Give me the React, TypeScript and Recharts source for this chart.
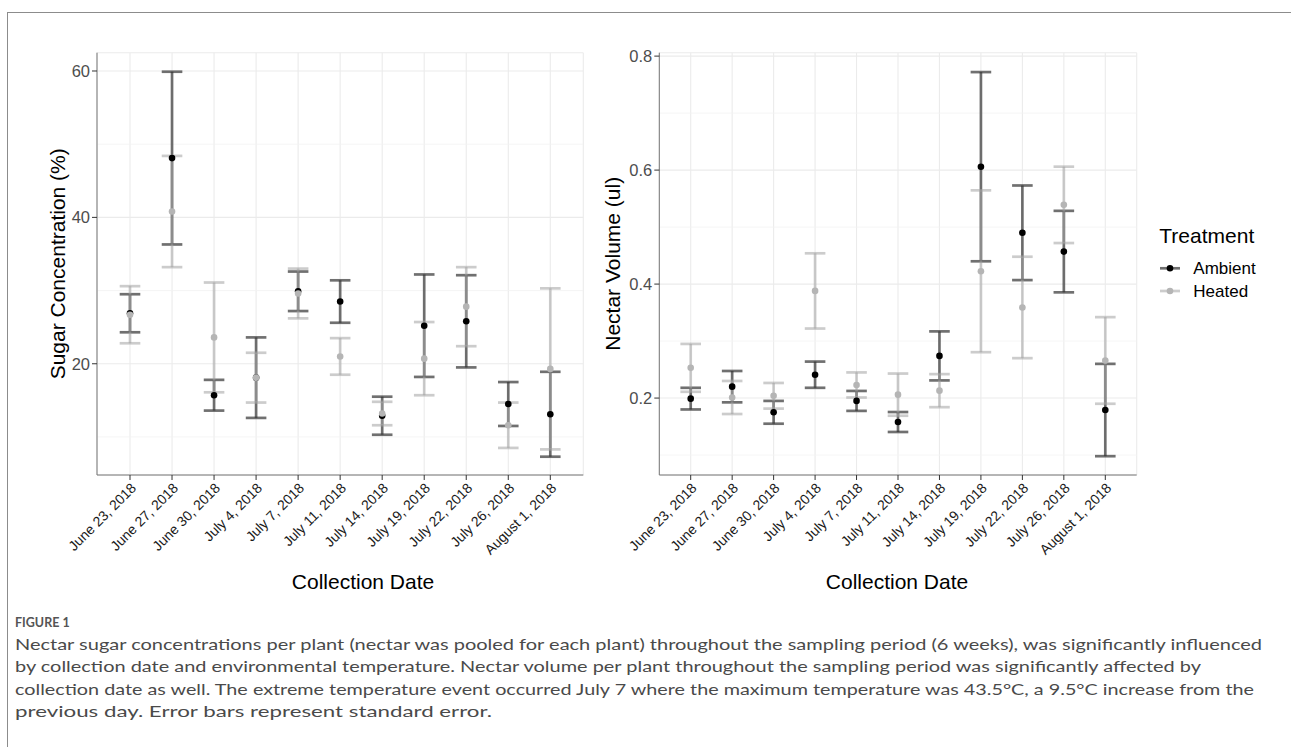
import React from "react";
import {
  ComposedChart,
  Scatter,
  ErrorBar,
  XAxis,
  YAxis,
  CartesianGrid,
  ReferenceLine,
} from "recharts";

const dates = [
  "June 23, 2018",
  "June 27, 2018",
  "June 30, 2018",
  "July 4, 2018",
  "July 7, 2018",
  "July 11, 2018",
  "July 14, 2018",
  "July 19, 2018",
  "July 22, 2018",
  "July 26, 2018",
  "August 1, 2018",
];

// sugar concentration (%), mean and standard error
const sugarAmbient = [26.9, 48.1, 15.7, 18.1, 29.9, 28.5, 12.9, 25.2, 25.8, 14.5, 13.1];
const sugarAmbientSe = [2.6, 11.8, 2.1, 5.5, 2.7, 2.9, 2.6, 7.0, 6.3, 3.0, 5.8];
const sugarHeated = [26.7, 40.8, 23.6, 18.1, 29.6, 21.0, 13.2, 20.7, 27.8, 11.6, 19.3];
const sugarHeatedSe = [3.9, 7.6, 7.5, 3.4, 3.4, 2.5, 1.6, 5.0, 5.4, 3.1, 11.0];

// nectar volume (ul), mean and standard error
const volumeAmbient = [0.199, 0.22, 0.175, 0.241, 0.195, 0.158, 0.274, 0.606, 0.49, 0.457, 0.179];
const volumeAmbientSe = [0.019, 0.0275, 0.02, 0.023, 0.0175, 0.0175, 0.043, 0.166, 0.083, 0.0715, 0.081];
const volumeHeated = [0.253, 0.201, 0.204, 0.388, 0.223, 0.206, 0.213, 0.4225, 0.359, 0.539, 0.266];
const volumeHeatedSe = [0.042, 0.029, 0.0225, 0.066, 0.022, 0.037, 0.029, 0.142, 0.089, 0.067, 0.076];

const sugarTicks = [20, 40, 60];
const sugarMinor = [10, 30, 50];
const volumeTicks = [0.2, 0.4, 0.6, 0.8];
const volumeMinor = [0.1, 0.3, 0.5, 0.7];

const captionLines = [
  "Nectar sugar concentrations per plant (nectar was pooled for each plant) throughout the sampling period (6 weeks), was significantly influenced",
  "by collection date and environmental temperature. Nectar volume per plant throughout the sampling period was significantly affected by",
  "collection date as well. The extreme temperature event occurred July 7 where the maximum temperature was 43.5°C, a 9.5°C increase from the",
  "previous day. Error bars represent standard error.",
];
const captionWidths = [1247, 1186, 1239, 477];

const FONT = "'Liberation Sans', Arial, sans-serif";
const AMBIENT_BAR = "#333333";
const HEATED_BAR = "#a4a4a4";

function buildRows(amb: number[], ambSe: number[], hot: number[], hotSe: number[]) {
  return dates.map((date, i) => ({
    date,
    ambient: amb[i],
    ambientSe: ambSe[i],
    heated: hot[i],
    heatedSe: hotSe[i],
  }));
}

const noShape = () => <g />;

const dot = (fill: string) => (p: any) =>
  <circle cx={p.cx} cy={p.cy} r={3.3} fill={fill} />;

function DateTick(props: any) {
  const { x, y, payload } = props;
  return (
    <text
      x={x}
      y={y}
      dy="0.7em"
      transform={`rotate(-45 ${x} ${y})`}
      textAnchor="end"
      fontSize={14}
      fontFamily={FONT}
      fill="#1a1a1a"
    >
      {payload.value}
    </text>
  );
}

interface PanelProps {
  rows: any[];
  left: number;
  rightMargin: number;
  yWidth: number;
  pad: number;
  domain: [number, number];
  ticks: number[];
  minor: number[];
  yTitle: string;
  yTitleX: number;
  xTitleX: number;
  fmt: (v: number) => string;
}

function Panel(p: PanelProps) {
  return (
    <div style={{ position: "absolute", left: p.left, top: 0 }}>
      <ComposedChart
        width={600}
        height={620}
        data={p.rows}
        margin={{ top: 52.7, right: p.rightMargin, bottom: 20, left: 0 }}
      >
        <CartesianGrid stroke="#ebebeb" strokeWidth={1.1} />
        {p.minor.map((v) => (
          <ReferenceLine key={v} y={v} stroke="#f3f3f3" strokeWidth={0.8} />
        ))}
        <XAxis
          dataKey="date"
          type="category"
          interval={0}
          padding={{ left: p.pad, right: p.pad }}
          height={125}
          tickSize={5}
          tickMargin={2}
          tickLine={{ stroke: "#333", strokeWidth: 1 }}
          axisLine={{ stroke: "#777", strokeWidth: 1 }}
          tick={<DateTick />}
          label={{
            content: () => (
              <text
                x={p.xTitleX}
                y={589.3}
                textAnchor="middle"
                fontSize={21}
                fontFamily={FONT}
                fill="#000"
              >
                Collection Date
              </text>
            ),
          }}
        />
        <XAxis
          xAxisId="top"
          dataKey="date"
          orientation="top"
          height={0}
          tick={false}
          tickLine={false}
          axisLine={{ stroke: "#777", strokeWidth: 1 }}
        />
        <YAxis
          type="number"
          domain={p.domain}
          allowDataOverflow
          ticks={p.ticks}
          width={p.yWidth}
          tickSize={5}
          tickMargin={2}
          tickFormatter={p.fmt}
          tickLine={{ stroke: "#333", strokeWidth: 1 }}
          axisLine={{ stroke: "#777", strokeWidth: 1 }}
          tick={{ fill: "#4d4d4d", fontSize: 16.5, fontFamily: FONT }}
          label={{
            content: () => (
              <text
                x={p.yTitleX}
                y={263.8}
                dy="0.35em"
                transform={`rotate(-90 ${p.yTitleX} 263.8)`}
                textAnchor="middle"
                fontSize={21}
                fontFamily={FONT}
                fill="#000"
              >
                {p.yTitle}
              </text>
            ),
          }}
        />
        <YAxis
          yAxisId="right"
          orientation="right"
          width={0}
          tick={false}
          tickLine={false}
          axisLine={{ stroke: "#777", strokeWidth: 1 }}
        />
        <Scatter dataKey="ambient" shape={noShape} isAnimationActive={false}>
          <ErrorBar
            dataKey="ambientSe"
            direction="y"
            width={10.3}
            stroke={AMBIENT_BAR}
            strokeOpacity={0.7}
            strokeWidth={2.7}
            isAnimationActive={false}
          />
        </Scatter>
        <Scatter dataKey="heated" shape={noShape} isAnimationActive={false}>
          <ErrorBar
            dataKey="heatedSe"
            direction="y"
            width={10.3}
            stroke={HEATED_BAR}
            strokeOpacity={0.56}
            strokeWidth={2.7}
            isAnimationActive={false}
          />
        </Scatter>
        <Scatter dataKey="ambient" shape={dot("#000000")} isAnimationActive={false} />
        <Scatter dataKey="heated" shape={dot("#b5b5b5")} isAnimationActive={false} />
      </ComposedChart>
    </div>
  );
}

function Legend() {
  return (
    <svg
      width={141}
      height={100}
      style={{ position: "absolute", left: 1150, top: 215 }}
    >
      <text x={9.3} y={28.3} fontSize={21} fontFamily={FONT} fill="#000">
        Treatment
      </text>
      <line x1={10} x2={30} y1={53.3} y2={53.3} stroke={AMBIENT_BAR} strokeOpacity={0.7} strokeWidth={2.7} />
      <circle cx={20} cy={53.3} r={3.3} fill="#000" />
      <text x={43.3} y={53.3} dy="0.36em" fontSize={17} fontFamily={FONT} fill="#000">
        Ambient
      </text>
      <line x1={10} x2={30} y1={76} y2={76} stroke={HEATED_BAR} strokeOpacity={0.56} strokeWidth={2.7} />
      <circle cx={20} cy={76} r={3.3} fill="#b5b5b5" />
      <text x={43.3} y={76} dy="0.36em" fontSize={17} fontFamily={FONT} fill="#000">
        Heated
      </text>
    </svg>
  );
}

function Caption() {
  return (
    <svg width={1291} height={147} style={{ position: "absolute", left: 0, top: 600 }}>
      <text
        x={15}
        y={27}
        fontSize={12.5}
        fontWeight={700}
        fontFamily="Lato, 'Open Sans', sans-serif"
        fill="#555"
      >
        FIGURE 1
      </text>
      {captionLines.map((line, i) => (
        <text
          key={i}
          x={15}
          y={50 + i * 22.4}
          fontSize={16}
          textLength={captionWidths[i]}
          lengthAdjust="spacingAndGlyphs"
          fontFamily="Lato, 'Open Sans', sans-serif"
          fill="#4a4a4a"
        >
          {line}
        </text>
      ))}
    </svg>
  );
}

export default function App() {
  const sugarRows = buildRows(sugarAmbient, sugarAmbientSe, sugarHeated, sugarHeatedSe);
  const volumeRows = buildRows(volumeAmbient, volumeAmbientSe, volumeHeated, volumeHeatedSe);
  return (
    <div
      style={{
        position: "absolute",
        left: 0,
        top: 0,
        width: 1291,
        height: 747,
        overflow: "hidden",
        background: "#fff",
        fontFamily: FONT,
      }}
    >
      <div
        style={{
          position: "absolute",
          left: 7,
          top: 12,
          width: 1284,
          height: 735,
          boxSizing: "border-box",
          borderTop: "1.5px solid #8c8c8c",
          borderLeft: "1.5px solid #8c8c8c",
        }}
      />
      <Panel
        rows={sugarRows}
        left={0}
        rightMargin={16.7}
        yWidth={97}
        pad={33}
        domain={[4.8, 62.5]}
        ticks={sugarTicks}
        minor={sugarMinor}
        yTitle="Sugar Concentration (%)"
        yTitleX={57.5}
        xTitleX={363}
        fmt={(v) => String(v)}
      />
      <Panel
        rows={volumeRows}
        left={560}
        rightMargin={23.3}
        yWidth={99.3}
        pad={31.4}
        domain={[0.065, 0.806]}
        ticks={volumeTicks}
        minor={volumeMinor}
        yTitle="Nectar Volume (ul)"
        yTitleX={53}
        xTitleX={337}
        fmt={(v) => v.toFixed(1)}
      />
      <Legend />
      <Caption />
    </div>
  );
}
